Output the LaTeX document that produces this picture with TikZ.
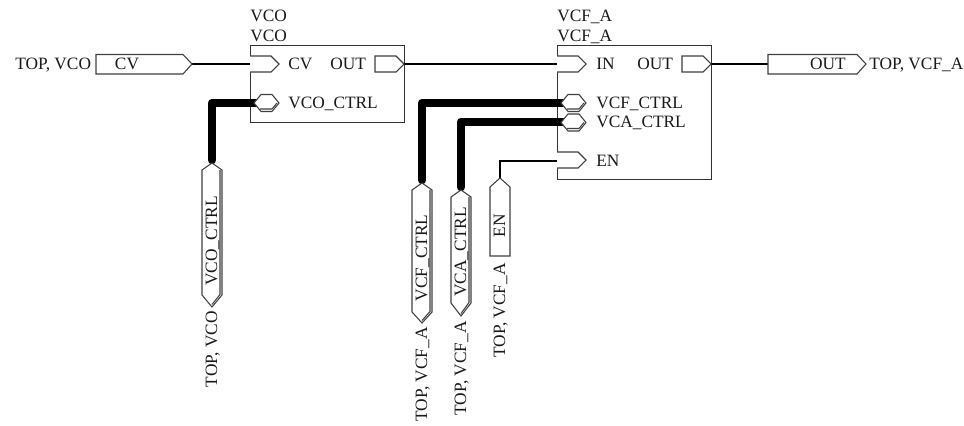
\documentclass[tikz,border=0pt]{standalone}
\usepackage{fontspec}
\setmainfont{Liberation Serif}
\newcommand{\px}{0.75pt}
\tikzset{
  x=0.75pt,y=-0.75pt,
  pin/.style={draw=black!75,line width=0.8pt,fill=white,line join=miter},
  dbl/.style={draw=black!75,line width=0.8pt},
  wire/.style={draw=black,line width=1.1pt},
  bus/.style={draw=black,line width=6.5pt,line join=round,line cap=round},
  boxs/.style={draw=black!80,line width=0.9pt,fill=white},
  lbl/.style={font=\fontsize{13pt}{15pt}\selectfont,inner sep=0pt,text=black!90},
}
\newcommand{\hexh}[2]{% horizontal bus pin: left tip x, mid y
  \draw[pin] (#1,#2) -- ++(7,-8.5) -- ++(11,0) -- ++(7,8.5) -- ++(-7,8.5) -- ++(-11,0) -- cycle;
  \draw[dbl] (#1+6,#2+6) -- ++(12,0) -- ++(5,-6);
}
\newcommand{\busv}[4]{% centre x, tip y, lower shoulder y, lower tip y
  \draw[pin] (#1,#2) -- (#1+10,#2+7) -- (#1+10,#3) -- (#1,#4) -- (#1-10,#3) -- (#1-10,#2+7) -- cycle;
  \draw[dbl] (#1+8,#2+7) -- (#1+8,#3-0.5) -- (#1,#4-2.5);
}
\begin{document}
\begin{tikzpicture}
\useasboundingbox (0,0) rectangle (964,425);
% boxes
\node[boxs,minimum width=154*\px,minimum height=77*\px,inner sep=0pt,anchor=north west] (vco) at (250,45) {};
\node[boxs,minimum width=154*\px,minimum height=134*\px,inner sep=0pt,anchor=north west] (vcf) at (557,45) {};
% connection points
\coordinate (cvout) at (192,64);
\coordinate (cvin) at (250,64);
\coordinate (vcoout) at (404,64);
\coordinate (inin) at (557,64);
\coordinate (vcfout) at (711,64);
\coordinate (outin) at (768,64);
\coordinate (enin) at (557,161);
\coordinate (entip) at (500,178);
\coordinate (vcop) at (256,103);
\coordinate (vcotip) at (212,160);
\coordinate (vcfp) at (563,103);
\coordinate (vcftip) at (422,180);
\coordinate (vcap) at (563,122);
\coordinate (vcatip) at (461,187);
% wires
\draw[wire] (cvout) -- (cvin);
\draw[wire] (vcoout) -- (inin);
\draw[wire] (vcfout) -- (outin);
\draw[wire] (entip) |- (enin);
% buses
\draw[bus] (vcotip) |- (vcop);
\draw[bus] (vcftip) |- (vcfp);
\draw[bus] (vcatip) |- (vcap);
% block pins
\draw[pin] (250,56) -- (271,56) -- (279,64) -- (271,72) -- (250,72);
\draw[pin] (375,56) -- (396,56) -- (404,64) -- (396,72) -- (375,72) -- cycle;
\draw[pin] (557,56) -- (578,56) -- (586,64) -- (578,72) -- (557,72);
\draw[pin] (682,56) -- (703,56) -- (711,64) -- (703,72) -- (682,72) -- cycle;
\draw[pin] (557,152) -- (578,152) -- (586,160) -- (578,168) -- (557,168);
\hexh{254}{103}
\hexh{561}{103}
\hexh{561}{122.5}
% hierarchical connectors
\draw[pin] (96,54.5) -- (183,54.5) -- (192,64) -- (183,74) -- (96,74) -- cycle;
\draw[pin] (768,54.5) -- (857,54.5) -- (866,64) -- (857,74) -- (768,74) -- cycle;
\busv{212}{163}{295}{307}
\busv{422}{183}{312}{323}
\busv{461}{190}{303}{316}
\draw[pin] (500,178) -- (510,187) -- (510,256) -- (490,256) -- (490,187) -- cycle;
% text
\node[lbl,anchor=base west] (t1) at (15,69) {TOP, VCO};
\node[lbl,anchor=base] (t2) at (127,69) {CV};
\node[lbl,anchor=base west] (t3) at (250,21) {VCO};
\node[lbl,anchor=base west] (t4) at (250,41) {VCO};
\node[lbl,anchor=base west] (t5) at (288,69) {CV};
\node[lbl,anchor=base west] (t6) at (330,69) {OUT};
\node[lbl,anchor=base west] (t7) at (288,108) {VCO\_CTRL};
\node[lbl,anchor=base west] (t8) at (557,21) {VCF\_A};
\node[lbl,anchor=base west] (t9) at (557,41) {VCF\_A};
\node[lbl,anchor=base west] (t10) at (596,69) {IN};
\node[lbl,anchor=base west] (t11) at (637,69) {OUT};
\node[lbl,anchor=base west] (t12) at (596,108) {VCF\_CTRL};
\node[lbl,anchor=base west] (t13) at (596,127) {VCA\_CTRL};
\node[lbl,anchor=base west] (t14) at (596,166) {EN};
\node[lbl,anchor=base] (t15) at (828,69) {OUT};
\node[lbl,anchor=base west] (t16) at (869,69) {TOP, VCF\_A};
\node[lbl,rotate=90,anchor=base] (t17) at (217,241) {VCO\_CTRL};
\node[lbl,rotate=90,anchor=base east] (t18) at (217,311) {TOP, VCO};
\node[lbl,rotate=90,anchor=base] (t19) at (427,258) {VCF\_CTRL};
\node[lbl,rotate=90,anchor=base east] (t20) at (427,327) {TOP, VCF\_A};
\node[lbl,rotate=90,anchor=base] (t21) at (466,252) {VCA\_CTRL};
\node[lbl,rotate=90,anchor=base east] (t22) at (466,321) {TOP, VCF\_A};
\node[lbl,rotate=90,anchor=base] (t23) at (505,226) {EN};
\node[lbl,rotate=90,anchor=base east] (t24) at (505,263) {TOP, VCF\_A};
\end{tikzpicture}
\end{document}
